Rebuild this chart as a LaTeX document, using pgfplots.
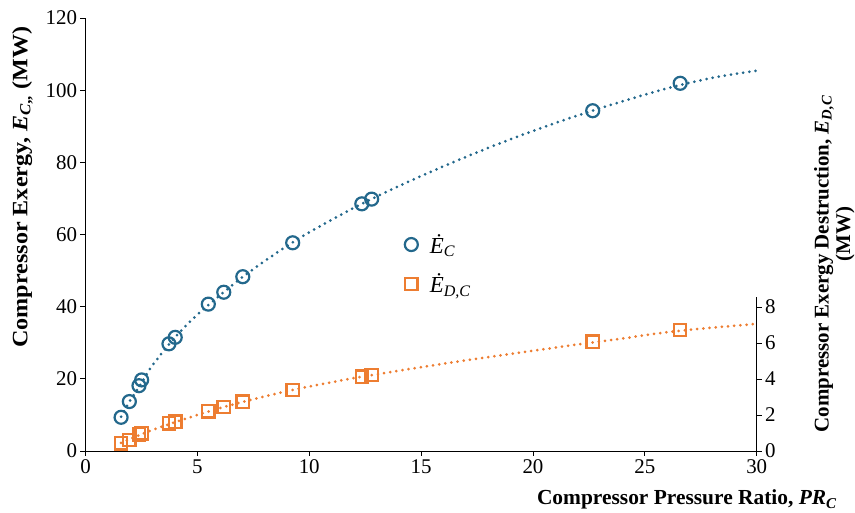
\documentclass[border=0pt]{standalone}
\usepackage{fontspec}
\setmainfont{Liberation Serif}
\usepackage{pgfplots}
\pgfplotsset{compat=1.18}
\definecolor{cblue}{RGB}{35,104,140}
\definecolor{corange}{RGB}{237,125,49}
\pgfplotsset{
  common/.style={
    scale only axis, width=671.2bp, xmin=0, xmax=30,
    tick align=outside, major tick length=5bp,
    tick style={black, line width=0.8bp},
    axis line style={black, line width=0.8bp},
    tick label style={font=\fontsize{21}{21}\selectfont},
    /pgf/number format/assume math mode=true,
    clip=false,
  },
  trend/.style={line width=3bp, line cap=round, dash pattern=on 0bp off 6.2bp, smooth},
}
\begin{document}
\begin{tikzpicture}[x=1bp,y=1bp]
\begin{axis}[common,
  at={(0,0)}, anchor=south west, height=433bp,
  ymin=0, ymax=120,
  axis x line*=bottom, axis y line*=left,
  xtick={0,5,...,30}, ytick={0,20,...,120},
  legend style={at={(axis description cs:0.471,0.51)}, anchor=north west, draw=none, fill=none,
    font=\fontsize{23}{23}\selectfont, row sep=15bp, column sep=10bp, legend cell align=left},
]
\addplot[cblue, trend, forget plot] coordinates {
(1.59,9.5) (2.0,14.0) (2.5,18.8) (3,23.8) (4,31.5) (5,37.8) (6,43.1) (7,48.1) (8,52.6) (9,56.8) (10,60.6) (12,67.4) (14,73.4) (16,78.9) (18,84.0) (20,88.7) (22,93.0) (24,96.9) (26,100.5) (28,103.4) (30,105.4)};
\addplot[only marks, mark=o, mark size=6.5bp, cblue, mark options={line width=2.2bp}] coordinates {
(1.59,9.34) (1.96,13.7) (2.39,18.1) (2.51,19.7) (3.73,29.7) (4.01,31.5) (5.49,40.7) (6.18,44.0) (7.03,48.3) (9.26,57.7) (12.35,68.5) (12.79,69.8) (22.67,94.3) (26.58,101.9)};
\addlegendentry{\textit{Ė}\textsubscript{\textit{C}}}
\addlegendimage{only marks, mark=square, corange, mark size=6.2bp, mark options={line width=2.2bp}}
\addlegendentry{\textit{Ė}\textsubscript{\textit{D,C}}}
\end{axis}
\begin{axis}[common,
  at={(0,0)}, anchor=south west, height=154bp,
  ymin=0, ymax=8.556,
  axis x line=none, axis y line*=right,
  ytick={0,2,...,8},
]
\addplot[corange, trend] coordinates {
(1.59,0.45) (2,0.67) (2.5,0.93) (3,1.17) (4,1.6) (5,2.0) (6,2.38) (7,2.72) (8,3.03) (9,3.32) (10,3.58) (12,4.05) (14,4.46) (16,4.85) (18,5.22) (20,5.57) (22,5.92) (24,6.25) (26,6.6) (28,6.85) (30,7.06)};
\addplot[only marks, mark=square, mark size=6.2bp, corange, mark options={line width=2.2bp}] coordinates {
(1.59,0.43) (1.96,0.61) (2.39,0.93) (2.51,0.98) (3.73,1.54) (4.01,1.63) (5.49,2.21) (6.18,2.44) (7.03,2.74) (9.26,3.39) (12.35,4.13) (12.79,4.22) (22.67,6.07) (26.58,6.72)};
\end{axis}
\node[rotate=90, anchor=center, font=\bfseries\fontsize{22}{22}\selectfont] at (-63,264) {\scalebox{1.1}[1]{Compressor Exergy, \textit{E}\textsubscript{\textit{C},,} (MW)}};
\node[rotate=90, anchor=center, font=\bfseries\fontsize{21}{21}\selectfont] at (738.5,187) {Compressor Exergy Destruction, \textit{E}\textsubscript{\textit{D,C}}};
\node[rotate=90, anchor=center, font=\bfseries\fontsize{21}{21}\selectfont] at (759.5,217) {(MW)};
\node[anchor=base west, font=\bfseries\fontsize{21.5}{21.5}\selectfont] at (448,-54) {Compressor Pressure Ratio, \textit{PR}\textsubscript{\textit{C}}};
\pgfresetboundingbox
\path (-85.5,-62) rectangle (769.5,451);
\end{tikzpicture}
\end{document}
